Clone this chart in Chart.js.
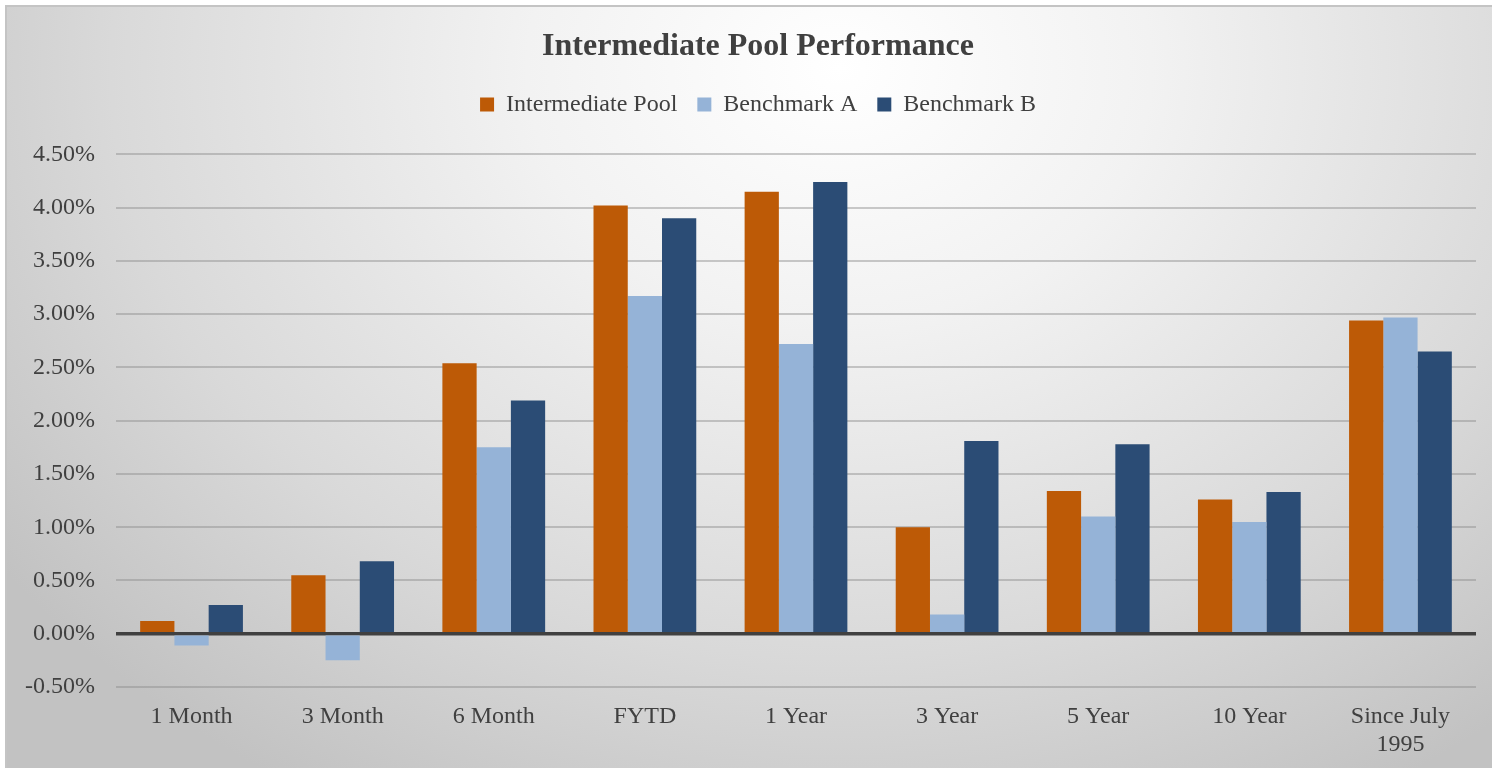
<!DOCTYPE html>
<html>
<head>
<meta charset="utf-8">
<script src="https://cdn.jsdelivr.net/npm/chart.js@4.4.1/dist/chart.umd.min.js"></script>
<style>
    html, body { margin: 0; padding: 0; background: #ffffff; }
    #frame {
        position: absolute; left: 5px; top: 5px; width: 1490px; height: 770px;
        border: 2px solid #c4c4c4; box-sizing: border-box;
        background: radial-gradient(ellipse 70% 110% at 56% 8%, #ffffff 0%, #f2f2f2 30%, #d9d9d9 70%, #c2c2c2 100%);
    }
    #wrap { position: absolute; left: 0; top: 0; width: 1492px; height: 768px; }
</style>
</head>
<body>
<div id="frame"></div>
<div id="wrap"><canvas id="perfChart" width="1492" height="768"></canvas></div>
<script>
// Data (percent)
const categories = ['1 Month', '3 Month', '6 Month', 'FYTD', '1 Year', '3 Year', '5 Year', '10 Year', ['Since July', '1995']];
const intermediatePool = [0.12, 0.55, 2.54, 4.02, 4.15, 1.00, 1.34, 1.26, 2.94];
const benchmarkA = [-0.11, -0.25, 1.75, 3.17, 2.72, 0.18, 1.10, 1.05, 2.97];
const benchmarkB = [0.27, 0.68, 2.19, 3.90, 4.24, 1.81, 1.78, 1.33, 2.65];
const yTicks = [-0.5, 0, 0.5, 1.0, 1.5, 2.0, 2.5, 3.0, 3.5, 4.0, 4.5];

const textColor = '#404040';
const serif = '"Liberation Serif", "Times New Roman", serif';

// extra room between legend and plot area, and nudge title/legend right a bit
const headerTweaks = {
    id: 'headerTweaks',
    beforeInit(chart) {
        const fit = chart.legend.fit;
        chart.legend.fit = function() {
            fit.bind(chart.legend)();
            this.height += 28;
        };
    },
    afterLayout(chart) {
        chart.titleBlock.left += 36;
        chart.legend.left += 36;
    }
};

document.addEventListener('DOMContentLoaded', function() {
    const ctx = document.getElementById('perfChart').getContext('2d');

    new Chart(ctx, {
        type: 'bar',
        data: {
            labels: categories,
            datasets: [
                { label: 'Intermediate Pool', data: intermediatePool, backgroundColor: '#BD5A06' },
                { label: 'Benchmark A', data: benchmarkA, backgroundColor: '#95B3D7' },
                { label: 'Benchmark B', data: benchmarkB, backgroundColor: '#2B4C75' }
            ]
        },
        plugins: [headerTweaks],
        options: {
            responsive: false,
            animation: false,
            datasets: {
                bar: { categoryPercentage: 0.68, barPercentage: 1.0 }
            },
            layout: {
                padding: { top: 22, left: 4, right: 16, bottom: 0 }
            },
            plugins: {
                title: {
                    display: true,
                    text: 'Intermediate Pool Performance',
                    color: textColor,
                    font: { family: serif, size: 32, weight: 'bold' },
                    padding: { top: 6, bottom: 6 }
                },
                legend: {
                    position: 'top',
                    labels: {
                        color: textColor,
                        font: { family: serif, size: 24 },
                        boxWidth: 14,
                        boxHeight: 14,
                        padding: 20
                    }
                },
                tooltip: { enabled: false }
            },
            scales: {
                x: {
                    afterFit: axis => { axis.height = 81; },
                    grid: { display: false, drawTicks: false },
                    border: { display: false },
                    ticks: {
                        color: textColor,
                        font: { family: serif, size: 24 },
                        padding: 15,
                        maxRotation: 0
                    }
                },
                y: {
                    min: -0.5,
                    max: 4.5,
                    afterBuildTicks: axis => { axis.ticks = yTicks.map(v => ({ value: v })); },
                    border: { display: false },
                    grid: {
                        drawTicks: false,
                        color: c => c.tick && c.tick.value === 0 ? '#404040' : 'rgba(140,140,140,0.45)',
                        lineWidth: c => c.tick && c.tick.value === 0 ? 3.5 : 2
                    },
                    ticks: {
                        color: textColor,
                        font: { family: serif, size: 24 },
                        padding: 21,
                        callback: v => v.toFixed(2) + '%'
                    }
                }
            }
        }
    });
});
</script>
</body>
</html>
